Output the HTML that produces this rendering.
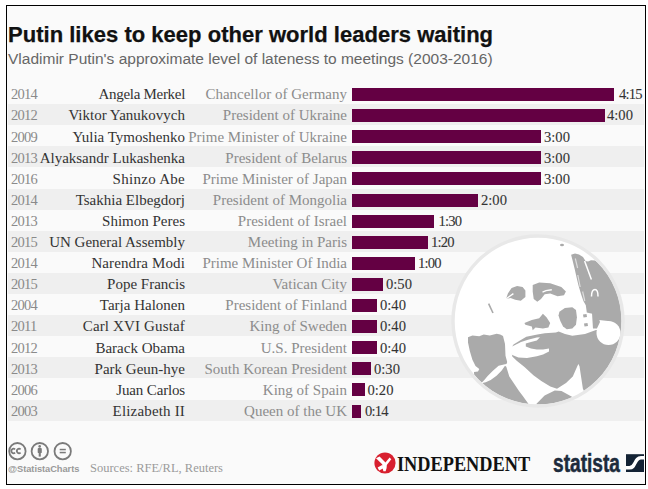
<!DOCTYPE html>
<html><head><meta charset="utf-8"><style>
html,body{margin:0;padding:0;background:#fff;}
body{width:648px;height:489px;position:relative;overflow:hidden;}
#frame{position:absolute;left:6px;top:5px;width:638px;height:478px;border:1px solid #000;background:#fafafa;overflow:hidden;}
#inner{position:absolute;left:-7px;top:-6px;width:648px;height:489px;}
.abs{position:absolute;white-space:nowrap;}
#title{position:absolute;left:8px;top:21.8px;font:700 22px/26px "Liberation Sans",sans-serif;color:#111;white-space:nowrap;letter-spacing:0.02px;-webkit-text-stroke:0.25px #111}
#sub{position:absolute;left:8px;top:49.2px;font:400 15.5px/20px "Liberation Sans",sans-serif;color:#666;white-space:nowrap;}
.stripe{position:absolute;left:8px;width:636px;height:21px;background:#efefef;}
.yr{position:absolute;left:11px;letter-spacing:-0.75px;font:400 14.5px/21px "Liberation Serif",serif;color:#8a8a8a;white-space:nowrap;height:21px;line-height:21px;}
.nm{position:absolute;right:463px;font:400 15px/21px "Liberation Serif",serif;color:#333;white-space:nowrap;}
.ps{position:absolute;right:301px;font:400 15px/21px "Liberation Serif",serif;color:#8c8c8c;white-space:nowrap;}
.lb{position:absolute;font:400 14.6px/21px "Liberation Serif",serif;color:#333;-webkit-text-stroke:0.1px #333;white-space:nowrap;}
.bar{position:absolute;left:352px;height:13px;background:#640043;}
</style></head><body>
<div id="frame"><div id="inner">
<div id="title">Putin likes to keep other world leaders waiting</div>
<div id="sub">Vladimir Putin's approximate level of lateness to meetings (2003-2016)</div>
<div class="stripe" style="top:104.1px"></div><div class="stripe" style="top:146.3px"></div><div class="stripe" style="top:188.5px"></div><div class="stripe" style="top:230.7px"></div><div class="stripe" style="top:272.9px"></div><div class="stripe" style="top:315.1px"></div><div class="stripe" style="top:357.3px"></div><div class="stripe" style="top:399.5px"></div>
<svg style="position:absolute;left:0;top:0" width="648" height="489" viewBox="0 0 648 489">
<defs><clipPath id="cc"><circle cx="538" cy="321" r="83.6"/></clipPath></defs>
<circle cx="538" cy="321" r="85" fill="#fff"/>
<g clip-path="url(#cc)" fill="#aaa">
<polygon points="571.1,254.8 575.0,253.5 579.0,254.5 583.0,257.0 585.5,261.0 588.0,261.5 591.0,260.2 595.0,260.6 598.5,262.8 602.0,266.0 640.0,266.0 640.0,330.0 620.0,330.0 608.0,321.0 599.0,320.0 596.0,314.5 590.0,313.2 586.8,312.4 585.8,305.2 583.4,301.0 581.0,294.0 578.5,285.5 576.7,278.1 574.8,269.5 572.4,259.7"/>
<polygon points="532.7,285.1 539.2,282.4 550.2,283.3 561.3,287.0 565.9,291.6 564.0,295.2 557.6,296.2 550.2,293.4 544.7,294.3 541.0,298.9 537.3,301.7 533.7,299.0 532.7,291.6"/>
<polygon points="507.9,293.4 511.6,287.9 517.1,286.0 522.6,287.0 525.4,290.6 525.4,297.1 520.8,300.8 515.2,299.8 510.6,298.0 506.0,298.9"/>
<polygon points="524.4,322.9 531.8,320.1 539.2,318.3 542.9,313.7 546.5,317.3 550.2,322.9 548.4,327.5 542.9,328.4 535.5,327.5 532.7,330.2 531.8,326.5 525.4,324.7"/>
<polygon points="559.4,311.8 564.9,308.1 572.3,307.2 576.0,310.0 576.9,317.3 576.0,324.7 572.3,328.4 566.8,329.3 563.1,326.5 560.3,321.0 558.5,315.5"/>
<polygon points="592.0,313.0 597.0,313.0 600.0,322.0 597.0,328.5 593.0,328.5"/>
<polygon points="583.0,314.5 586.5,314.0 587.0,317.0 583.5,317.5"/>
<polygon points="584.0,323.5 587.5,323.0 588.0,326.0 584.5,326.5"/>
<polygon points="513.5,344.5 520.0,340.5 526.3,336.8 537.4,334.5 544.8,333.3 555.9,332.4 558.7,331.5 565.0,334.0 572.3,335.7 585.0,333.9 596.0,330.0 640.0,330.0 640.0,420.0 586.0,420.0 584.0,391.0 582.9,388.8 581.2,377.5 579.5,366.3 578.4,364.0 577.3,366.3 572.8,376.4 566.0,383.1 557.0,388.8 550.3,386.5 541.3,380.9 533.4,375.3 524.5,367.0 517.0,361.0 512.3,356.5 511.5,352.0 512.5,346.0"/>
<polygon points="468.0,337.2 472.4,335.4 479.3,336.3 483.7,334.6 489.8,335.4 496.7,333.7 500.2,334.6 503.0,336.0 505.0,344.0 505.5,355.7 507.2,362.0 506.5,364.0 505.0,364.3 498.6,365.7 492.9,370.7 487.9,375.8 484.3,380.0 481.4,382.9 477.6,378.9 474.1,374.6 474.0,372.0 478.0,371.5 479.3,369.0 475.5,366.0 472.4,359.8 469.8,351.1 468.0,342.4"/>
<polygon points="481.4,383.3 485.7,382.2 490.7,380.0 496.5,375.8 501.5,370.7 505.0,365.7 506.3,366.7 509.3,376.5 515.0,385.0 519.0,391.0 522.8,396.0 528.0,403.3 532.0,412.0 460.0,412.0 460.0,380.0"/>
<polygon points="534.0,412.0 536.8,403.4 544.6,395.5 554.8,390.4 561.5,391.0 572.8,397.2 578.0,404.0 580.0,412.0"/>
<circle cx="608.5" cy="333" r="12" fill="#fff"/>
<polygon fill="#fff" points="514.0,345.5 521.0,342.0 528.0,339.7 536.8,337.5 540.0,337.2 536.8,340.5 531.0,342.0 525.8,343.4 525.8,346.5 531.0,348.5 536.8,349.5 543.0,349.5 549.0,348.5 549.0,351.4 543.0,354.5 536.8,356.3 527.0,358.1 518.4,357.5 512.3,355.0 510.0,352.0 511.0,347.0"/>
<line x1="488.6" y1="303.6" x2="493" y2="313" stroke="#aaa" stroke-width="1.6"/>
<line x1="584.6" y1="261" x2="591.4" y2="279.4" stroke="#fff" stroke-width="1.5"/>
<path d="M591.5,296.5 C591.5,291 593.5,289.5 595,289.5 C597,289.5 598,291.5 598,296.5" stroke="#fff" stroke-width="1.5" fill="none"/>
<path d="M542.5,292.2 L546,290.6 L551.8,289.8" stroke="#fff" stroke-width="1.4" fill="none"/>
<path d="M506.2,298.8 L510,296 L513.4,293.6" stroke="#fff" stroke-width="1.4" fill="none"/>
<ellipse cx="562" cy="245" rx="2" ry="1.3" fill="#aaa"/>
<path d="M575.3,258.5 L577.6,268 M577.8,275 L580.2,287 M582.6,291.5 L584.8,301" stroke="#fff" stroke-width="1.2" fill="none" opacity="0.6"/>
</g>
<circle cx="538" cy="321" r="85" fill="none" stroke="#e8e8e8" stroke-width="3.4"/>
</svg>
<div class="bar" style="top:88.0px;width:262px"></div><div class="bar" style="top:109.1px;width:253px"></div><div class="bar" style="top:130.2px;width:189px"></div><div class="bar" style="top:151.3px;width:189px"></div><div class="bar" style="top:172.4px;width:189px"></div><div class="bar" style="top:193.5px;width:126px"></div><div class="bar" style="top:214.6px;width:81.5px"></div><div class="bar" style="top:235.7px;width:75.5px"></div><div class="bar" style="top:256.8px;width:63px"></div><div class="bar" style="top:277.9px;width:31px"></div><div class="bar" style="top:299.0px;width:25px"></div><div class="bar" style="top:320.1px;width:25px"></div><div class="bar" style="top:341.2px;width:25px"></div><div class="bar" style="top:362.3px;width:19px"></div><div class="bar" style="top:383.4px;width:12.5px"></div><div class="bar" style="top:404.5px;width:8.5px"></div>
<div class="yr" style="top:84.3px">2014</div><div class="nm" style="top:84.3px;letter-spacing:-0.3px">Angela Merkel</div><div class="ps" style="top:84.3px">Chancellor of Germany</div><div class="lb" style="top:84.3px;left:619px;letter-spacing:-0.8px">4:15</div><div class="yr" style="top:105.4px">2012</div><div class="nm" style="top:105.4px;letter-spacing:0px">Viktor Yanukovych</div><div class="ps" style="top:105.4px">President of Ukraine</div><div class="lb" style="top:105.4px;left:607px;letter-spacing:0px">4:00</div><div class="yr" style="top:126.5px">2009</div><div class="nm" style="top:126.5px;letter-spacing:0px">Yulia Tymoshenko</div><div class="ps" style="top:126.5px">Prime Minister of Ukraine</div><div class="lb" style="top:126.5px;left:544px;letter-spacing:0px">3:00</div><div class="yr" style="top:147.6px">2013</div><div class="nm" style="top:147.6px;letter-spacing:0px">Alyaksandr Lukashenka</div><div class="ps" style="top:147.6px">President of Belarus</div><div class="lb" style="top:147.6px;left:544px;letter-spacing:0px">3:00</div><div class="yr" style="top:168.7px">2016</div><div class="nm" style="top:168.7px;letter-spacing:0.28px">Shinzo Abe</div><div class="ps" style="top:168.7px">Prime Minister of Japan</div><div class="lb" style="top:168.7px;left:544px;letter-spacing:0px">3:00</div><div class="yr" style="top:189.8px">2014</div><div class="nm" style="top:189.8px;letter-spacing:0px">Tsakhia Elbegdorj</div><div class="ps" style="top:189.8px">President of Mongolia</div><div class="lb" style="top:189.8px;left:481px;letter-spacing:0px">2:00</div><div class="yr" style="top:210.9px">2013</div><div class="nm" style="top:210.9px;letter-spacing:0px">Shimon Peres</div><div class="ps" style="top:210.9px">President of Israel</div><div class="lb" style="top:210.9px;left:438.6px;letter-spacing:-0.8px">1:30</div><div class="yr" style="top:232.0px">2015</div><div class="nm" style="top:232.0px;letter-spacing:0px">UN General Assembly</div><div class="ps" style="top:232.0px">Meeting in Paris</div><div class="lb" style="top:232.0px;left:431px;letter-spacing:-0.8px">1:20</div><div class="yr" style="top:253.1px">2014</div><div class="nm" style="top:253.1px;letter-spacing:0.12px">Narendra Modi</div><div class="ps" style="top:253.1px">Prime Minister Of India</div><div class="lb" style="top:253.1px;left:418px;letter-spacing:-0.8px">1:00</div><div class="yr" style="top:274.2px">2015</div><div class="nm" style="top:274.2px;letter-spacing:0px">Pope Francis</div><div class="ps" style="top:274.2px">Vatican City</div><div class="lb" style="top:274.2px;left:386px;letter-spacing:0px">0:50</div><div class="yr" style="top:295.3px">2004</div><div class="nm" style="top:295.3px;letter-spacing:0px">Tarja Halonen</div><div class="ps" style="top:295.3px">President of Finland</div><div class="lb" style="top:295.3px;left:380px;letter-spacing:0px">0:40</div><div class="yr" style="top:316.4px">2011</div><div class="nm" style="top:316.4px;letter-spacing:0.15px">Carl XVI Gustaf</div><div class="ps" style="top:316.4px">King of Sweden</div><div class="lb" style="top:316.4px;left:380px;letter-spacing:0px">0:40</div><div class="yr" style="top:337.5px">2012</div><div class="nm" style="top:337.5px;letter-spacing:0px">Barack Obama</div><div class="ps" style="top:337.5px">U.S. President</div><div class="lb" style="top:337.5px;left:380px;letter-spacing:0px">0:40</div><div class="yr" style="top:358.6px">2013</div><div class="nm" style="top:358.6px;letter-spacing:0px">Park Geun-hye</div><div class="ps" style="top:358.6px">South Korean President</div><div class="lb" style="top:358.6px;left:374px;letter-spacing:0px">0:30</div><div class="yr" style="top:379.7px">2006</div><div class="nm" style="top:379.7px;letter-spacing:-0.16px">Juan Carlos</div><div class="ps" style="top:379.7px">King of Spain</div><div class="lb" style="top:379.7px;left:367.5px;letter-spacing:0px">0:20</div><div class="yr" style="top:400.8px">2003</div><div class="nm" style="top:400.8px;letter-spacing:0.17px">Elizabeth II</div><div class="ps" style="top:400.8px">Queen of the UK</div><div class="lb" style="top:400.8px;left:365px;letter-spacing:-0.8px">0:14</div>

<svg style="position:absolute;left:0;top:0" width="648" height="489" viewBox="0 0 648 489">
 <g fill="none" stroke="#7a7a7a" stroke-width="1.8">
  <circle cx="17.4" cy="451.2" r="8.2"/>
  <circle cx="39.8" cy="451.2" r="8.2"/>
  <circle cx="62.7" cy="451.2" r="8.2"/>
  <path d="M15.1,449.4 A2.2,2.2 0 1 0 15.1,452.6" stroke-width="1.7"/>
  <path d="M20.6,449.4 A2.2,2.2 0 1 0 20.6,452.6" stroke-width="1.7"/>
 </g>
 <g fill="#7a7a7a">
  <circle cx="39.7" cy="446.4" r="1.3"/>
  <rect x="37.7" y="448.1" width="4.1" height="5" rx="0.9"/>
  <rect x="38.7" y="452" width="2.1" height="4.6"/>
  <rect x="59.7" y="448.8" width="6.1" height="1.5"/>
  <rect x="59.7" y="451.8" width="6.1" height="1.5"/>
 </g>
 <circle cx="385" cy="463" r="10.6" fill="#d8202f"/>
 <g fill="#fff"><path d="M376,458.2 L379.6,456.6 L386.2,463.2 L384.2,466.2 Z"/><path d="M389.6,457.4 L391.3,459.2 L386.6,465.2 L384.6,463.6 Z"/><path d="M382.4,463 L387,463 L386.6,468 L385.6,471.2 L383.4,471.2 L382.6,468 Z"/><path d="M377.6,467.4 L382.6,464.8 L383.4,468.2 L379.2,470.4 Z"/></g>
 <rect x="626" y="454.2" width="18" height="17.8" fill="#132234"/>
 <path d="M626,467.8 L629.5,467.8 C633,467.8 633.5,466 635,463 C636.5,460 637.5,457.7 641,457.7 L644,457.7" stroke="#fff" stroke-width="3.4" fill="none"/>
</svg>
<div style="position:absolute;left:8px;top:462.6px;font:700 9.3px/12px 'Liberation Sans',sans-serif;color:#999;white-space:nowrap;letter-spacing:-0.05px">@StatistaCharts</div>
<div style="position:absolute;left:90px;top:460px;font:400 12.5px/16px 'Liberation Serif',serif;color:#9a9a9a;white-space:nowrap">Sources: RFE/RL, Reuters</div>
<div style="position:absolute;left:397px;top:451.5px;font:700 21.4px/24px 'Liberation Serif',serif;color:#111;white-space:nowrap;transform-origin:0 0;transform:scaleX(0.855)">INDEPENDENT</div>
<div style="position:absolute;left:553px;top:447.5px;font:700 25px/30px 'Liberation Sans',sans-serif;color:#1d2b3c;white-space:nowrap;transform-origin:0 0;transform:scaleX(0.765);-webkit-text-stroke:0.5px #1d2b3c">statista</div>

</div></div>
</body></html>
